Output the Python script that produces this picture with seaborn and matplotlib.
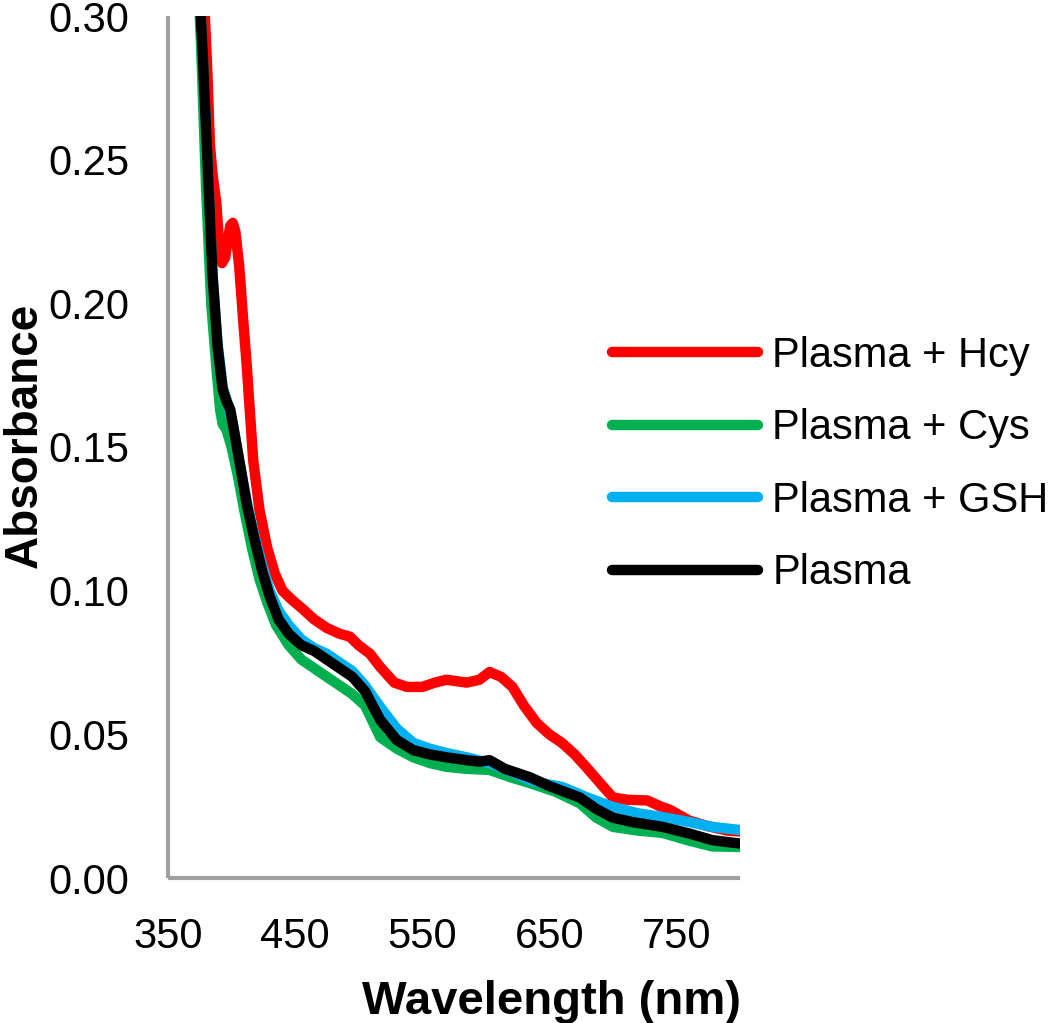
import matplotlib
matplotlib.use("Agg")
import matplotlib.pyplot as plt
import pandas as pd
import seaborn as sns

# ---------------------------------------------------------------------------
# Data
# ---------------------------------------------------------------------------
SERIES = ["Plasma + Hcy", "Plasma + Cys", "Plasma + GSH", "Plasma"]
COLORS = ["#FF0000", "#00B050", "#00B0F0", "#000000"]

hcy_nm = [373, 378, 381, 383, 385, 388, 390, 392.5, 395, 397, 399, 401, 403, 406,
          409, 412, 417, 422, 428, 434, 440, 447, 455, 465, 475, 485, 493, 500,
          509, 517, 528, 538, 550, 560, 569, 585, 595, 603, 612, 621, 630, 640,
          650, 660, 670, 679, 690, 700, 712, 727, 737, 745, 760, 775, 790, 800]
hcy_abs = [0.34, 0.31, 0.28, 0.255, 0.245, 0.235, 0.222, 0.214, 0.216, 0.222,
           0.227, 0.228, 0.225, 0.213, 0.195, 0.178, 0.1455, 0.128, 0.115, 0.106,
           0.100, 0.097, 0.094, 0.090, 0.087, 0.085, 0.084, 0.081, 0.078, 0.0734,
           0.068, 0.0665, 0.0665, 0.068, 0.069, 0.068, 0.069, 0.0717, 0.070,
           0.0665, 0.060, 0.054, 0.050, 0.047, 0.043, 0.0386, 0.033, 0.028,
           0.0272, 0.027, 0.025, 0.0237, 0.020, 0.018, 0.0165, 0.0162]

cys_nm = [372, 376, 380, 384, 388, 391, 393, 396, 400, 405, 410, 416, 422, 428,
          435, 445, 455, 465, 475, 485, 495, 505, 517, 530, 543, 556, 569, 585,
          603, 620, 635, 655, 674, 687, 700, 720, 739, 760, 778, 800]
cys_abs = [0.33, 0.29, 0.24, 0.20, 0.178, 0.163, 0.158, 0.156, 0.150, 0.14,
           0.128, 0.115, 0.104, 0.096, 0.088, 0.081, 0.076, 0.073, 0.070, 0.067,
           0.064, 0.060, 0.049, 0.045, 0.042, 0.040, 0.0387, 0.038, 0.0376,
           0.035, 0.033, 0.030, 0.026, 0.021, 0.0178, 0.0165, 0.0157, 0.013,
           0.011, 0.0108]

gsh_nm = [372, 377, 381, 385, 389, 393, 397, 401, 406, 412, 418, 424, 430, 437,
          445, 455, 465, 475, 485, 495, 505, 517, 530, 543, 556, 569, 585, 603,
          620, 635, 650, 660, 680, 700, 720, 739, 760, 778, 800]
gsh_abs = [0.33, 0.29, 0.25, 0.21, 0.186, 0.171, 0.165, 0.158, 0.145, 0.131,
           0.119, 0.109, 0.100, 0.093, 0.088, 0.083, 0.080, 0.078, 0.075, 0.072,
           0.067, 0.0595, 0.052, 0.047, 0.045, 0.0435, 0.042, 0.040, 0.037,
           0.034, 0.0325, 0.0317, 0.028, 0.0247, 0.0225, 0.0212, 0.0195, 0.0178,
           0.0167]

plasma_nm = [372, 377, 381, 385, 389, 393, 396, 399, 403, 407, 412, 418, 424, 430,
             437, 445, 455, 465, 475, 485, 495, 505, 517, 530, 543, 556, 569, 585,
             595, 603, 615, 625, 635, 650, 662, 674, 687, 700, 715, 739, 760, 778,
             790, 800]
plasma_abs = [0.33, 0.29, 0.25, 0.21, 0.185, 0.17, 0.166, 0.163, 0.153, 0.143,
              0.13, 0.118, 0.107, 0.098, 0.09, 0.085, 0.081, 0.079, 0.076, 0.073,
              0.070, 0.065, 0.055, 0.048, 0.0445, 0.043, 0.042, 0.041, 0.0405,
              0.041, 0.038, 0.0365, 0.035, 0.032, 0.030, 0.028, 0.024, 0.021,
              0.0195, 0.0178, 0.0155, 0.0132, 0.0125, 0.012]

X_TICKS = [350, 450, 550, 650, 750]
Y_TICKS = [0.00, 0.05, 0.10, 0.15, 0.20, 0.25, 0.30]

frames = []
for name, nm, ab in zip(SERIES,
                        [hcy_nm, cys_nm, gsh_nm, plasma_nm],
                        [hcy_abs, cys_abs, gsh_abs, plasma_abs]):
    frames.append(pd.DataFrame({"Wavelength": nm, "Absorbance": ab, "Sample": name}))
df = pd.concat(frames, ignore_index=True)

# ---------------------------------------------------------------------------
# Style
# ---------------------------------------------------------------------------
sns.set_theme(style="white")
plt.rcParams["font.family"] = ["Liberation Sans", "DejaVu Sans"]
plt.rcParams["text.color"] = "black"
plt.rcParams["axes.labelcolor"] = "black"
AXIS_GREY = "#A0A0A0"

fig = plt.figure(figsize=(10.5, 10.23), dpi=100)
ax = fig.add_axes([168 / 1050, 1 - 878 / 1023, (740 - 168) / 1050, (878 - 16) / 1023])

sns.lineplot(
    data=df, x="Wavelength", y="Absorbance",
    hue="Sample", hue_order=SERIES,
    palette=dict(zip(SERIES, COLORS)),
    linewidth=7.5, errorbar=None, estimator=None, sort=False,
    ax=ax,
)
for line in ax.get_lines():
    line.set_solid_capstyle("round")
    line.set_solid_joinstyle("round")

ax.set_xlim(350, 800)
ax.set_ylim(0, 0.30)
ax.set_xticks(X_TICKS)
ax.set_yticks(Y_TICKS)
ax.set_xticklabels([str(v) for v in X_TICKS])
ax.set_yticklabels([f"{v:.2f}" for v in Y_TICKS])
ax.tick_params(axis="both", labelsize=30, colors=AXIS_GREY, labelcolor="black",
               length=10, width=3, direction="out")
ax.tick_params(axis="y", pad=18)
ax.tick_params(axis="x", pad=18)
ax.spines[["top", "right"]].set_visible(False)
for s in ["left", "bottom"]:
    ax.spines[s].set_color(AXIS_GREY)
    ax.spines[s].set_linewidth(3)
    ax.spines[s].set_capstyle("butt")

ax.set_xlabel("Wavelength (nm)", fontsize=34, fontweight="bold", color="black")
ax.set_ylabel("Absorbance", fontsize=33, fontweight="bold", color="black")
ax.xaxis.set_label_coords(0.671, -0.118)
ax.yaxis.set_label_coords(-0.212, 0.514)

leg = ax.legend(
    loc="upper left", bbox_to_anchor=(612 / 1050, 1 - 336 / 1023),
    bbox_transform=fig.transFigure,
    frameon=False, fontsize=30, labelcolor="black",
    handlelength=3.5, handletextpad=0.35, labelspacing=0.78,
    borderpad=0.0, borderaxespad=0.0,
)
for h in leg.get_lines():
    h.set_linewidth(7.5)
    h.set_solid_capstyle("round")

fig.savefig("out.png", dpi=100)
